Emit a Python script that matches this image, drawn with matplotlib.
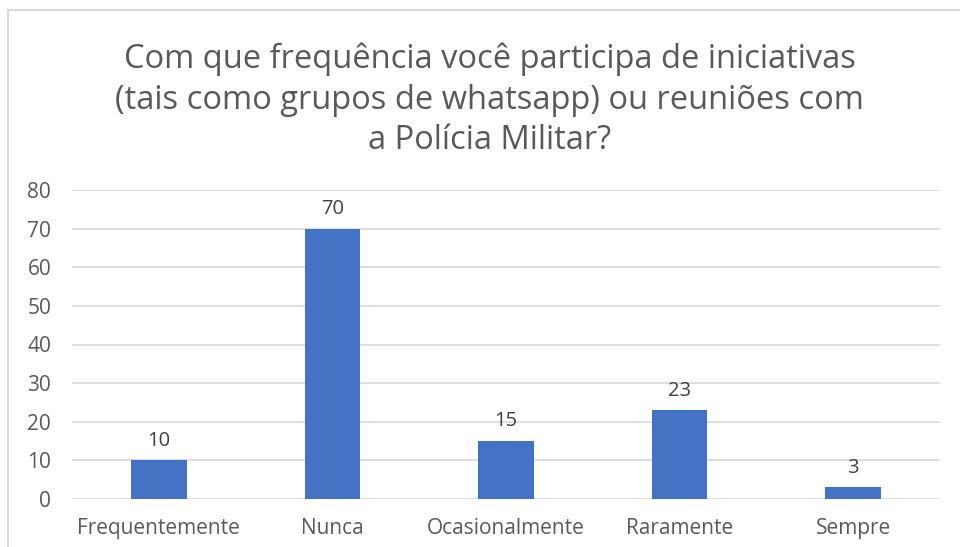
import matplotlib.pyplot as plt
import matplotlib.patches as mpatches

categories = ["Frequentemente", "Nunca", "Ocasionalmente", "Raramente", "Sempre"]
values = [10, 70, 15, 23, 3]
yticks = [0, 10, 20, 30, 40, 50, 60, 70, 80]
title = ("Com que frequência você participa de iniciativas\n"
         "(tais como grupos de whatsapp) ou reuniões com\n"
         "a Polícia Militar?")

plt.rcParams['font.family'] = ['Open Sans', 'DejaVu Sans']
txt = '#595959'

fig = plt.figure(figsize=(9.6, 5.47), dpi=100, facecolor='white')
ax = fig.add_axes([72/960, 1-499/547, 868/960, 309/547])

# chart border (cropped on right and bottom)
fig.patches.append(mpatches.Rectangle((8/960, -0.1), 1.2, 1-10/547+0.1,
                                      transform=fig.transFigure, fill=False,
                                      edgecolor='#d9d9d9', linewidth=1.5))

x = range(len(categories))
bars = ax.bar(x, values, width=0.32, color='#4472C4', zorder=3)
for b, v in zip(bars, values):
    ax.text(b.get_x() + b.get_width()/2, v + 2.5, str(v), ha='center', va='bottom',
            fontsize=14.5, color='#404040')

ax.set_xlim(-0.5, len(categories) - 0.5)
ax.set_ylim(0, 80)
ax.set_yticks(yticks)
ax.set_xticks(list(x))
ax.set_xticklabels(categories)
ax.tick_params(axis='both', length=0, labelsize=15, labelcolor=txt)
ax.tick_params(axis='x', pad=14)
ax.tick_params(axis='y', pad=15)
ax.grid(axis='y', color='#d9d9d9', linewidth=1.2, zorder=0)
for s in ax.spines.values():
    s.set_visible(False)

fig.text(0.51, 1-100/547, title, ha='center', va='center', fontsize=23.5,
         color=txt, linespacing=1.3)

fig.savefig('out.png', dpi=100, facecolor='white')
